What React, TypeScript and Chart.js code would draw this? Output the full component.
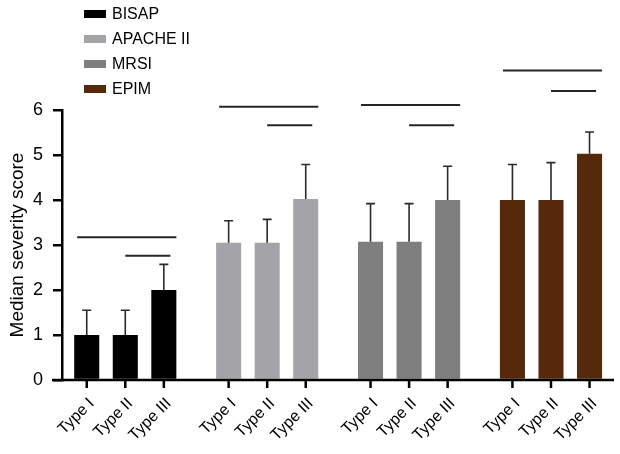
import React, { useEffect, useRef } from "react";
import { Chart, registerables } from "chart.js";

Chart.register(...registerables);

const groups = ["BISAP", "APACHE II", "MRSI", "EPIM"];
const groupColors = ["#000000", "#a4a4a8", "#7e7e7e", "#56290a"];
const types = ["Type I", "Type II", "Type III"];

// median scores per group
const typeI = [1, 3.05, 3.07, 4.0];
const typeII = [1, 3.05, 3.07, 4.0];
const typeIII = [2, 4.02, 4.0, 5.03];

// upper ends of error bars
const errI = [1.55, 3.54, 3.92, 4.79];
const errII = [1.55, 3.57, 3.92, 4.83];
const errIII = [2.57, 4.79, 4.75, 5.51];

// significance bar heights (Type I vs Type III, Type II vs Type III)
const sigLong = [3.17, 6.07, 6.11, 6.88];
const sigShort = [2.76, 5.66, 5.66, 6.42];

const yTicks = [0, 1, 2, 3, 4, 5, 6];

const FONT = "'Liberation Sans', Arial, Helvetica, sans-serif";

export default function App() {
  const ref = useRef<HTMLCanvasElement | null>(null);

  useEffect(() => {
    document.body.style.margin = "0";
    const canvas = ref.current;
    if (!canvas) return;
    const series = [typeI, typeII, typeIII];
    const errs = [errI, errII, errIII];

    const overlay = {
      id: "overlay",
      afterDatasetsDraw(chart: any) {
        const ctx = chart.ctx;
        const ca = chart.chartArea;
        const ys = chart.scales.y;
        const metas = [0, 1, 2].map((d) => chart.getDatasetMeta(d));
        ctx.save();
        // error bars
        ctx.strokeStyle = "#2a2a2a";
        ctx.lineWidth = 1.6;
        metas.forEach((meta: any, d: number) => {
          meta.data.forEach((el: any, i: number) => {
            const yE = ys.getPixelForValue(errs[d][i]);
            ctx.beginPath();
            ctx.moveTo(el.x, el.y);
            ctx.lineTo(el.x, yE);
            ctx.moveTo(el.x - 4.5, yE);
            ctx.lineTo(el.x + 4.5, yE);
            ctx.stroke();
          });
        });
        // significance lines
        ctx.strokeStyle = "#262626";
        ctx.lineWidth = 2;
        groups.forEach((_, i) => {
          const b0 = metas[0].data[i] as any;
          const b1 = metas[1].data[i] as any;
          const b2 = metas[2].data[i] as any;
          const yl = ys.getPixelForValue(sigLong[i]);
          const yS = ys.getPixelForValue(sigShort[i]);
          ctx.beginPath();
          ctx.moveTo(b0.x - b0.width / 2 + 3, yl);
          ctx.lineTo(b2.x + b2.width / 2, yl);
          ctx.moveTo(b1.x, yS);
          ctx.lineTo(b2.x + b2.width / 2 - 6, yS);
          ctx.stroke();
        });
        // x axis line and ticks
        ctx.strokeStyle = "#000";
        ctx.lineWidth = 2.5;
        ctx.beginPath();
        ctx.moveTo(ca.left - 10, ca.bottom);
        ctx.lineTo(ca.right + 2, ca.bottom);
        ctx.stroke();
        ctx.fillStyle = "#000";
        ctx.font = `16px ${FONT}`;
        metas.forEach((meta: any, d: number) => {
          meta.data.forEach((el: any) => {
            ctx.beginPath();
            ctx.moveTo(el.x, ca.bottom);
            ctx.lineTo(el.x, ca.bottom + 8);
            ctx.stroke();
            ctx.save();
            ctx.translate(el.x + 5, ca.bottom + 21);
            ctx.rotate(-Math.PI / 4);
            ctx.textAlign = "right";
            ctx.textBaseline = "middle";
            ctx.fillText(types[d], 0, 0);
            ctx.restore();
          });
        });
        // legend
        ctx.font = `16px ${FONT}`;
        ctx.textAlign = "left";
        ctx.textBaseline = "middle";
        groups.forEach((g, i) => {
          const cy = 14 + i * 25;
          ctx.fillStyle = groupColors[i];
          ctx.fillRect(84, cy - 4, 22, 8);
          ctx.fillStyle = "#000";
          ctx.fillText(g, 112, cy + 1);
        });
        ctx.restore();
      },
    };

    const chart = new Chart(canvas, {
      type: "bar",
      data: {
        datasets: types.map((t, d) => ({
          label: t,
          data: groups.map((_, i) => ({ x: i, y: series[d][i] })),
          backgroundColor: groupColors,
          borderWidth: 0,
          categoryPercentage: 0.815,
          barPercentage: 0.65,
        })),
      },
      options: {
        responsive: false,
        animation: false,
        layout: { padding: { left: 0, top: 110, right: 8, bottom: 74 } },
        scales: {
          x: {
            type: "linear",
            display: false,
            offset: false,
            min: -0.446,
            max: 3.43,
            afterBuildTicks: (s: any) => {
              s.ticks = groups.map((_, i) => ({ value: i }));
            },
          },
          y: {
            min: 0,
            max: 6,
            afterBuildTicks: (s: any) => {
              s.ticks = yTicks.map((v) => ({ value: v }));
            },
            afterFit: (s: any) => {
              s.width = 62;
            },
            grid: {
              drawOnChartArea: false,
              drawTicks: true,
              tickLength: 9,
              color: "#000",
              lineWidth: 2.5,
            },
            border: { display: true, color: "#000", width: 2.5 },
            ticks: {
              color: "#000",
              padding: 10,
              font: { family: FONT, size: 18 },
            },
            title: {
              display: true,
              text: "Median severity score",
              color: "#000",
              font: { family: FONT, size: 19 },
              padding: { top: 6, bottom: 0 },
            },
          },
        },
        plugins: {
          legend: { display: false },
          tooltip: { enabled: false },
        },
      },
      plugins: [overlay],
    } as any);

    return () => chart.destroy();
  }, []);

  return (
    <div style={{ width: 620, height: 454, background: "#fff" }}>
      <canvas ref={ref} width={620} height={454} />
    </div>
  );
}
